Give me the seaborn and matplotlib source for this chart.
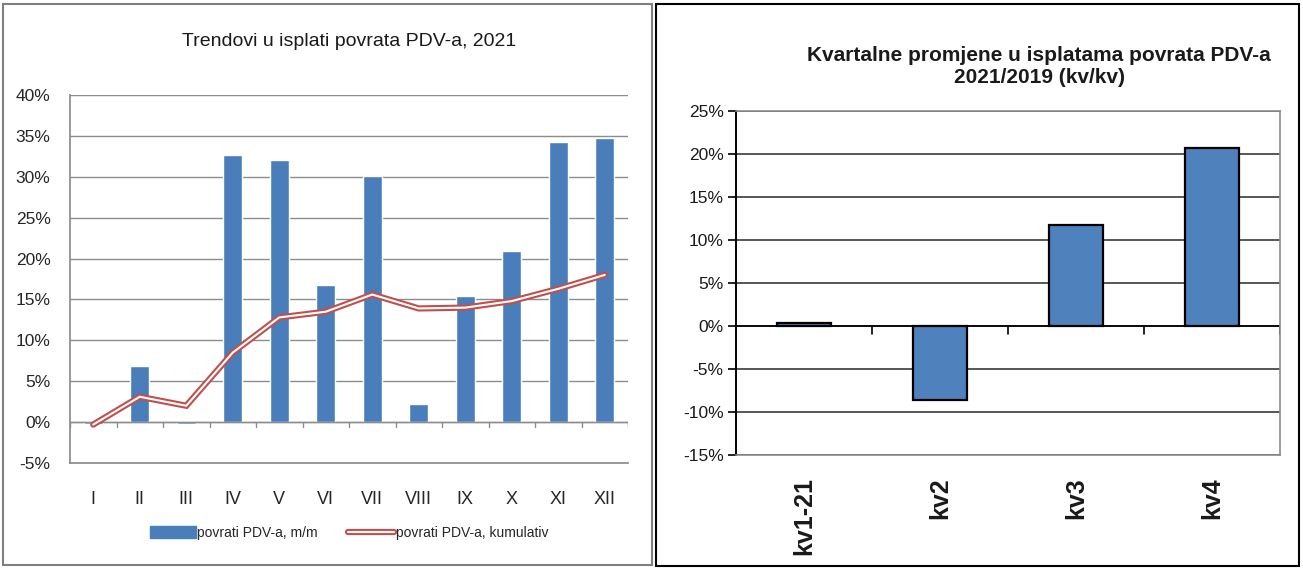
import numpy as np
import pandas as pd
import matplotlib
matplotlib.use("Agg")
import matplotlib.pyplot as plt
from matplotlib.patches import Rectangle, Patch
from matplotlib.lines import Line2D
from matplotlib.ticker import FuncFormatter
import seaborn as sns

# data
months = ["I", "II", "III", "IV", "V", "VI", "VII", "VIII", "IX", "X", "XI", "XII"]
monthly = [-0.2, 6.9, -0.2, 32.7, 32.0, 16.8, 30.1, 2.2, 15.4, 20.9, 34.2, 34.7]
cumulative = [-0.3, 3.1, 2.0, 8.5, 12.8, 13.5, 15.6, 13.9, 14.0, 14.8, 16.3, 18.0]

quarters = ["kv1-21", "kv2", "kv3", "kv4"]
quarter_change = [0.4, -8.6, 11.8, 20.7]

BLUE = "#4a7ebb"
RED = "#c0504d"
pct = FuncFormatter(lambda v, _: f"{v:.0f}%")

sns.set_theme(style="white")
plt.rcParams["font.family"] = ["Liberation Sans", "DejaVu Sans"]

fig = plt.figure(figsize=(13.03, 5.68), dpi=100)

# panel frames
fig.patches.append(Rectangle((3 / 1303, 3 / 568), 649 / 1303, 561 / 568, transform=fig.transFigure,
                             fill=False, edgecolor="#7f7f7f", linewidth=1.5))
fig.patches.append(Rectangle((656 / 1303, 2 / 568), 643 / 1303, 562 / 568, transform=fig.transFigure,
                             fill=False, edgecolor="black", linewidth=1.5))

### LEFT CHART #########################################################################################
ax1 = fig.add_axes([70 / 1303, 1 - 463 / 568, 558 / 1303, 368 / 568])
df_m = pd.DataFrame({"month": months, "value": monthly, "cum": cumulative})
sns.barplot(data=df_m, x="month", y="value", color=BLUE, width=0.4, saturation=1, ax=ax1)
xs = np.arange(len(months))
sns.lineplot(x=xs, y=df_m["cum"], color=RED, linewidth=4.5, ax=ax1, solid_joinstyle="miter")
sns.lineplot(x=xs, y=df_m["cum"], color="white", linewidth=1.5, ax=ax1, solid_joinstyle="miter")
ax1.set_ylim(-5, 40)
ax1.set_xlim(-0.5, 11.5)
ax1.set_yticks(np.arange(-5, 41, 5))
ax1.yaxis.set_major_formatter(pct)
ax1.grid(axis="y", color="#8c8c8c", linewidth=1)
ax1.set_axisbelow(True)
for s in ["top", "right"]:
    ax1.spines[s].set_visible(False)
ax1.spines["left"].set_color("#8c8c8c")
ax1.spines["bottom"].set_color("#8c8c8c")
ax1.axhline(0, color="#8c8c8c", linewidth=1, zorder=1)
ax1.set_xlabel("")
ax1.set_ylabel("")
ax1.tick_params(axis="y", labelsize=12.5, colors="#262626", length=0, pad=14)
ax1.tick_params(axis="x", labelsize=13, colors="#262626", length=0, pad=20)
# small category separators on the zero line
for b in np.arange(-0.5, 12, 1):
    ax1.plot([b, b], [0, -0.6], color="#8c8c8c", linewidth=1, zorder=1)
ax1.set_title("Trendovi u isplati povrata PDV-a, 2021", fontsize=14, color="#1a1a1a", pad=35)

h_bar = Patch(facecolor=BLUE, edgecolor=BLUE)
h_line = (Line2D([], [], color=RED, linewidth=4.5), Line2D([], [], color="white", linewidth=1.5))
ax1.legend([h_bar, h_line], ["povrati PDV-a, m/m", "povrati PDV-a, kumulativ"], ncol=2, frameon=False,
           loc="center", bbox_to_anchor=(0.5, -0.19), fontsize=10, handlelength=3.3, handleheight=0.9,
           handletextpad=0.1, columnspacing=2.2)

### RIGHT CHART ########################################################################################
ax2 = fig.add_axes([736 / 1303, 1 - 455 / 568, 544 / 1303, 344 / 568])
df_q = pd.DataFrame({"quarter": quarters, "value": quarter_change})
sns.barplot(data=df_q, x="quarter", y="value", color="#4f81bd", width=0.4, saturation=1,
            edgecolor="black", linewidth=1.6, ax=ax2)
ax2.set_ylim(-15, 25)
ax2.set_xlim(-0.5, 3.5)
ax2.set_yticks(np.arange(-15, 26, 5))
ax2.yaxis.set_major_formatter(pct)
ax2.grid(axis="y", color="#3a3a3a", linewidth=1.2)
ax2.set_axisbelow(True)
ax2.spines["left"].set_color("black")
ax2.spines["left"].set_linewidth(1.4)
for s in ["top", "right", "bottom"]:
    ax2.spines[s].set_color("#8c8c8c")
    ax2.spines[s].set_linewidth(1.2)
ax2.axhline(0, color="black", linewidth=1.2, zorder=1)
for b in np.arange(0.5, 4, 1):
    ax2.plot([b, b], [0, -0.9], color="black", linewidth=1.2, zorder=1)
ax2.set_xlabel("")
ax2.set_ylabel("")
ax2.tick_params(axis="y", labelsize=12.5, colors="#1a1a1a", left=True, length=6, width=1.2, color="black", pad=3)
ax2.tick_params(axis="x", length=0, pad=16)
for lab in ax2.get_xticklabels():
    lab.set_rotation(90)
    lab.set_fontweight("bold")
    lab.set_fontsize(18)
    lab.set_color("#1a1a1a")
    lab.set_verticalalignment("top")
ax2.set_title("Kvartalne promjene u isplatama povrata PDV-a\n2021/2019 (kv/kv)", fontsize=15,
              fontweight="bold", color="#1a1a1a", pad=20, x=0.557, linespacing=1.2)

fig.savefig("out.png", dpi=100, facecolor="white")
